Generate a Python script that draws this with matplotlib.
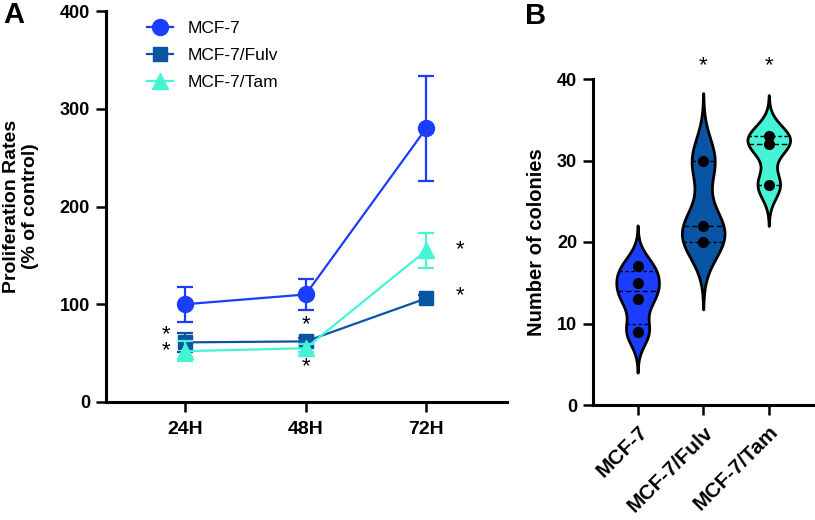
import numpy as np
import matplotlib
matplotlib.use("Agg")
import matplotlib.pyplot as plt

plt.rcParams['font.family'] = ['Liberation Sans', 'DejaVu Sans']

# ---------------- data ----------------
timepoints = ["24H", "48H", "72H"]
series_names = ["MCF-7", "MCF-7/Fulv", "MCF-7/Tam"]
mcf7_mean = [100, 110, 280]
mcf7_err = [18, 16, 54]
fulv_mean = [61, 62, 106]
fulv_err = [10, 3, 3]
tam_mean = [52, 55, 155]
tam_err = [10, 4, 18]

colony_groups = ["MCF-7", "MCF-7/Fulv", "MCF-7/Tam"]
colonies_mcf7 = [9, 13, 15, 17]
colonies_fulv = [20, 22, 30]
colonies_tam = [27, 32, 33]

# significance marks (x in category units, y value, text)
starsA_x = [-0.16, 1.0, 1.0, 2.28, 2.28]
starsA_y = [60.5, 79, 36, 156, 109]
starsA_txt = ["*\n*", "*", "*", "*", "*"]
starsB_groups = [1, 2]
starsB_y = [41.6, 41.6]

colors = ["#1a3dff", "#0a54a4", "#45f4d4"]

fig = plt.figure(figsize=(8.15, 5.2), dpi=100)

# ---------------- Panel A ----------------
axA = fig.add_axes([106/815, 118/520, (507-106)/815, (402-11)/520])
x = np.arange(len(timepoints))
means = [mcf7_mean, fulv_mean, tam_mean]
errs = [mcf7_err, fulv_err, tam_err]
markers = ["o", "s", "^"]
msizes = [11.5, 10, 11]
handles = []
for i in range(3):
    axA.errorbar(x, means[i], yerr=errs[i], fmt="none", ecolor=colors[i],
                 elinewidth=1.6, capsize=6, capthick=1.6, zorder=2 + i)
    h, = axA.plot(x, means[i], marker=markers[i], ms=msizes[i], color=colors[i],
                  lw=1.6, label=series_names[i], zorder=3 + i)
    handles.append(h)

for sx, sy, st in zip(starsA_x, starsA_y, starsA_txt):
    axA.text(sx, sy, st, ha="center", va="center", fontsize=16, color="black",
             linespacing=0.72)

axA.set_xlim(-0.656, 2.67)
axA.set_ylim(0, 400)
axA.set_xticks(x)
axA.set_xticklabels(timepoints)
axA.set_yticks([0, 100, 200, 300, 400])
axA.set_ylabel("Proliferation Rates\n(% of control)", fontsize=14, fontweight="bold",
               linespacing=1.15)
axA.yaxis.set_label_coords((39 - 106) / 401, 0.5)

leg = axA.legend(handles=handles, loc="upper left", bbox_to_anchor=(147/815, 1 - 21/520),
                 bbox_transform=fig.transFigure, frameon=False, fontsize=12.5,
                 handlelength=1.5, handletextpad=0.85, labelspacing=0.68, borderpad=0,
                 borderaxespad=0)

# ---------------- Panel B ----------------
axB = fig.add_axes([593/815, 115/520, (815-593)/815 - 0.002, (405-79)/520])
groups = [colonies_mcf7, colonies_fulv, colonies_tam]
stats = []
for vals in groups:
    v = np.asarray(vals, float)
    n = len(v)
    sd = v.std(ddof=1)
    q1, med, q3 = np.percentile(v, [25, 50, 75], method="weibull")
    iqr = (q3 - q1) / 1.34
    h = 0.72 * 0.9 * min(sd, iqr) * n ** (-0.2)
    coords = np.linspace(v.min() - 3.0 * h, v.max() + 3.0 * h, 400)
    dens = np.exp(-((coords[:, None] - v[None, :]) ** 2) / (2 * h * h)).sum(axis=1)
    stats.append(dict(coords=coords, vals=dens, mean=v.mean(), median=med,
                      min=v.min(), max=v.max(), q=(q1, med, q3)))

width = 0.65
parts = axB.violin(stats, positions=[0, 1, 2], widths=width,
                   showmeans=False, showextrema=False, showmedians=False)
for body, c in zip(parts["bodies"], colors):
    body.set_facecolor(c)
    body.set_edgecolor("black")
    body.set_linewidth(2.0)
    body.set_alpha(1)
    body.set_zorder(2)

for i, st in enumerate(stats):
    dmax = st["vals"].max()
    for j, qv in enumerate(st["q"]):
        hw = np.interp(qv, st["coords"], st["vals"]) / dmax * width / 2
        ls = (0, (4, 2)) if j == 1 else (0, (2.5, 1.8))
        axB.plot([i - hw, i + hw], [qv, qv], color="black", lw=1.0, ls=ls, zorder=3)
    axB.plot([i] * len(groups[i]), groups[i], "o", color="black", ms=7, zorder=4)

for g, sy in zip(starsB_groups, starsB_y):
    axB.text(g, sy, "*", ha="center", va="center", fontsize=16, color="black",
             clip_on=False)

axB.set_xlim(-0.68, 2.68)
axB.set_ylim(0, 40)
axB.set_yticks([0, 10, 20, 30, 40])
axB.set_xticks([0, 1, 2])
axB.set_xticklabels(colony_groups, rotation=45, ha="right", rotation_mode="anchor")
axB.set_ylabel("Number of colonies", fontsize=14.5, fontweight="bold")
axB.yaxis.set_label_coords((546 - 593) / 222, 0.5)

for ax in (axA, axB):
    for s in ("top", "right"):
        ax.spines[s].set_visible(False)
    for s in ("left", "bottom"):
        ax.spines[s].set_linewidth(2.2)
    ax.tick_params(axis="both", length=7.5, width=1.8, labelsize=13, direction="out")
    ax.tick_params(axis="y", pad=4)
    ax.tick_params(axis="x", pad=6)
    for lab in ax.get_xticklabels() + ax.get_yticklabels():
        lab.set_fontweight("bold")
axA.tick_params(axis="x", labelsize=14)
axB.tick_params(axis="x", labelsize=15, pad=5)

fig.text(14/815, 1 - 15/520, "A", fontsize=21, fontweight="bold", ha="center", va="center")
fig.text(536/815, 1 - 16/520, "B", fontsize=21, fontweight="bold", ha="center", va="center")

fig.savefig("out.png", dpi=100)
